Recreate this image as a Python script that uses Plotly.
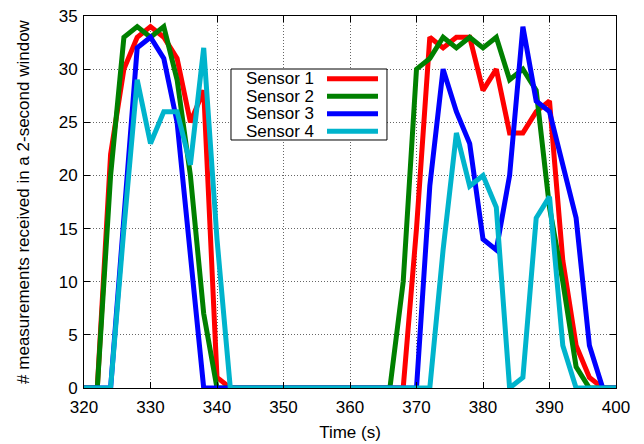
import plotly.graph_objects as go

times = list(range(320, 401, 2))

sensor1 = [0, 0, 22, 30, 33, 34, 33, 31, 25, 28,
           1, 0, 0, 0, 0, 0, 0, 0, 0, 0,
           0, 0, 0, 0, 0, 15, 33, 32, 33, 33,
           28, 30, 24, 24, 26, 27, 12, 4, 1, 0,
           0]
sensor2 = [0, 0, 20, 33, 34, 33, 34, 29, 20, 7,
           0, 0, 0, 0, 0, 0, 0, 0, 0, 0,
           0, 0, 0, 0, 10, 30, 31, 33, 32, 33,
           32, 33, 29, 30, 28, 17, 10, 2, 0, 0,
           0]
sensor3 = [0, 0, 0, 16, 32, 33, 31, 25, 12, 0,
           0, 0, 0, 0, 0, 0, 0, 0, 0, 0,
           0, 0, 0, 0, 0, 0, 19, 30, 26, 23,
           14, 13, 20, 34, 27, 26, 21, 16, 4, 0,
           0]
sensor4 = [0, 0, 0, 15, 29, 23, 26, 26, 21, 32,
           14, 0, 0, 0, 0, 0, 0, 0, 0, 0,
           0, 0, 0, 0, 0, 0, 0, 13, 24, 19,
           20, 17, 0, 1, 16, 18, 4, 0, 0, 0,
           0]

names = ["Sensor 1", "Sensor 2", "Sensor 3", "Sensor 4"]
colors = ["#ff0000", "#008000", "#0000ff", "#00b4cc"]
series = [sensor1, sensor2, sensor3, sensor4]

x_ticks = list(range(320, 401, 10))
y_ticks = list(range(0, 36, 5))

FONT = "Liberation Sans, Arial, sans-serif"
FS = 17

fig = go.Figure()
for nm, col, ys in zip(names, colors, series):
    fig.add_trace(go.Scatter(x=times, y=ys, mode="lines", name=nm,
                             line=dict(color=col, width=5), showlegend=False))

axis_common = dict(
    showline=True, linecolor="black", linewidth=1, mirror="ticks",
    ticks="inside", ticklen=6, tickcolor="black",
    showgrid=True, gridcolor="#666666", gridwidth=1, griddash="1px,2px",
    zeroline=False, tickfont=dict(family=FONT, size=FS, color="black"),
    automargin=False,
)

fig.update_xaxes(range=[320, 400], tickvals=x_ticks, ticklabelstandoff=4, **axis_common,
                 title=dict(text="Time (s)", font=dict(family=FONT, size=FS, color="black"), standoff=9))
fig.update_yaxes(range=[0, 35], tickvals=y_ticks, ticklabelstandoff=2, **axis_common,
                 title=dict(text="# measurements received in a 2-second window",
                            font=dict(family=FONT, size=FS, color="black"), standoff=24))

# custom legend (text on the left, line sample on the right)
lx0, lx1, ly0, ly1 = 0.2763, 0.5695, 0.6667, 0.8575
fig.add_shape(type="rect", xref="paper", yref="paper", x0=lx0, x1=lx1, y0=ly0, y1=ly1,
              line=dict(color="black", width=1), fillcolor="white", layer="above")
row_y = [0.831, 0.784, 0.737, 0.690]
for nm, col, ry in zip(names, colors, row_y):
    fig.add_annotation(x=(316 - 84) / 532, y=ry, xref="paper", yref="paper", text=nm,
                       showarrow=False, xanchor="right", yanchor="middle",
                       font=dict(family=FONT, size=FS, color="black"))
    fig.add_shape(type="line", xref="paper", yref="paper",
                  x0=(327 - 84) / 532, x1=(378 - 84) / 532, y0=ry, y1=ry,
                  line=dict(color=col, width=5), layer="above")

fig.update_layout(
    width=644, height=444,
    margin=dict(l=84, r=28, t=16, b=56, autoexpand=False),
    paper_bgcolor="white", plot_bgcolor="white",
    font=dict(family=FONT, size=FS, color="black"),
)

fig.write_html("out.html")
